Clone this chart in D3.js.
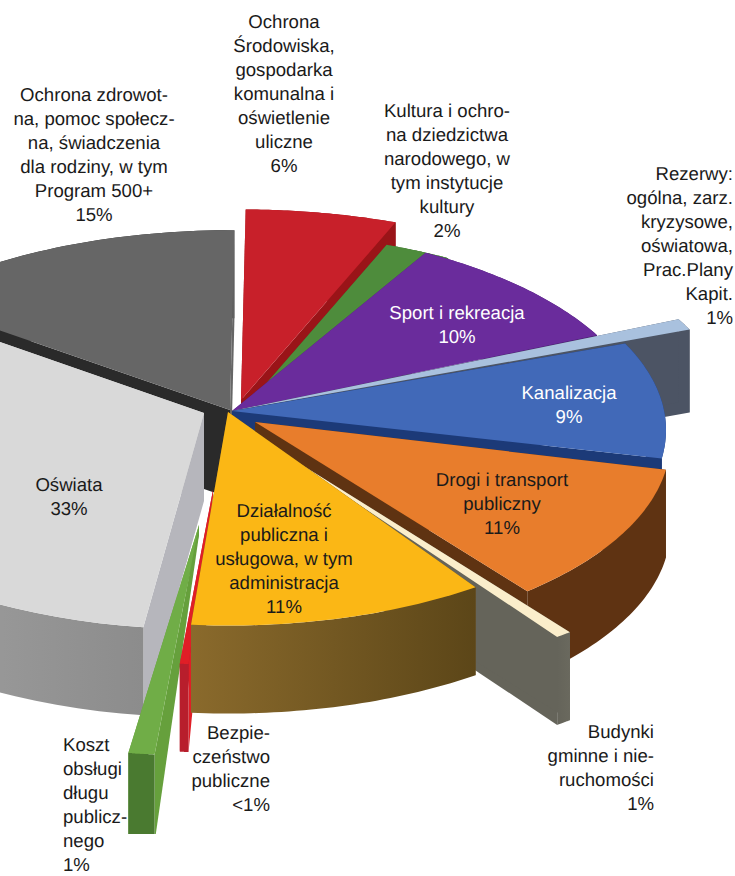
<!DOCTYPE html>
<html><head><meta charset="utf-8">
<script src="https://d3js.org/d3.v7.min.js"></script>
<style>html,body{margin:0;padding:0;background:#fff}svg{display:block}text{font-family:"Liberation Sans",Arial,sans-serif;font-size:18.6px;text-rendering:geometricPrecision}</style>
</head><body><svg id="c" width="735" height="876"></svg>
<script>
// categories and read-off shares
const categories=["Ochrona Środowiska","Kultura","Sport","Rezerwy","Kanalizacja","Drogi","Budynki","Działalność","Bezpieczeństwo","Koszt","Oświata","Ochrona zdrowia"];
const values=[5.44,2.5,9.16,0.78,9.17,11.22,1.42,11.56,0.28,0.61,34.08,13.78];
const labelLines=[
["Ochrona","Środowiska,","gospodarka","komunalna i","oświetlenie","uliczne","6%"],
["Kultura i ochro-","na dziedzictwa","narodowego, w","tym instytucje","kultury","2%"],
["Sport i rekreacja","10%"],
["Rezerwy:","ogólna, zarz.","kryzysowe,","oświatowa,","Prac.Plany","Kapit.","1%"],
["Kanalizacja","9%"],
["Drogi i transport","publiczny","11%"],
["Budynki","gminne i nie-","ruchomości","1%"],
["Działalność","publiczna i","usługowa, w tym","administracja","11%"],
["Bezpie-","czeństwo","publiczne","<1%"],
["Koszt","obsługi","długu","publicz-","nego","1%"],
["Oświata","33%"],
["Ochrona zdrowot-","na, pomoc społecz-","na, świadczenia","dla rodziny, w tym","Program 500+","15%"]];
// layout
const labelX=[284,447,457,733,569,502,654,284,270,63,69,94];
const labelY=[28,117,319,180,399,486,738,517,739,751,491,101];
const labelAnchor=["middle","middle","middle","end","middle","middle","end","middle","end","start","middle","middle"];
const labelFill=["#1a1a1a","#1a1a1a","#fff","#1a1a1a","#fff","#1a1a1a","#1a1a1a","#1a1a1a","#1a1a1a","#1a1a1a","#1a1a1a","#1a1a1a"];
const apexX=[241,238,232,232,232,255,262,228,213,199,204,230];
const apexY=[400,416,411,411,411,422,440,412,490,525,413,410];
const rimX=[241,238,215,232,231,245,260,228,233,228,204,230];
const rimY=[420,435,430,430,430,442,455,430,430,432,432,430];
const radii=[448,431,432,505,435,425,488,416,500,690,420,425];
const padStart=[0,0,0,0,0,0,2.2,0,0,0,0,0];
const padEnd=[0,0,0,0,0,0,1,0,0,0,0,0];
const rimDepth=[88,88,88,83,88,88,88,88,88,88,88,88];
const apexDepth=[88,88,88,83,88,88,88,88,5,10,88,88];
const topColor=["#c8202a","#4e8c3c","#6a2c9c","#a9c1de","#4169b8","#e87d2c","#fbeecb","#fbb715","#e01e26","#70ad47","#d9d9d9","#666666"];
const startWall=["#9a1418","#3e6e30","#4a1f70","#4c5464","#1c3a78","#5f3312","#65645a","#6a5020","#e01e26","#66a03c","#b6b6bc","#2a2a2a"];
const endWall=["#9a1418","#3e6e30","#3a1a66","#4c5464","#1c3a78","#5f3312","#65645a","#6a5020","#b81e2c","#66a03c","#d9d9d9","#666666"];
const rimFrom=["#9a1418","#3e6e30","#4a1f70","#4c5464","#1c3a78","#5f3312","#65645a","#8a6a2c","#b81e2c","#4a7a30","#a8a8a8","#2a2a2a"];
const rimTo=["#9a1418","#3e6e30","#4a1f70","#4c5464","#1c3a78","#5f3312","#6a695e","#5c4618","#b81e2c","#4a7a30","#8c8c8c","#666666"];
const rimBreak=[0,0,0,0,0,0,0,0,0,0,0,0.97];
const drawOrder=[0,11,1,2,3,4,5,6,10,9,8,7];
const tilt=0.47, deg=Math.PI/180, startAngle=0.6*deg;

const svg=d3.select("#c");
const defs=svg.append("defs");
defs.append("clipPath").attr("id","clip").append("rect").attr("width",735).attr("height",834);
const arcs=d3.pie().sort(null).startAngle(startAngle).endAngle(startAngle+2*Math.PI)(values);
const line=d3.line();
const g=svg.append("g").attr("clip-path","url(#clip)");
drawOrder.forEach(i=>{
  const a=arcs[i];
  const t0=a.startAngle+padStart[i]*deg, t1=a.endAngle-padEnd[i]*deg;
  const rim=t=>[rimX[i]+radii[i]*Math.sin(t), rimY[i]-tilt*radii[i]*Math.cos(t)];
  const ang=d3.scaleLinear().domain([0,40]).range([t0,t1]);
  const pts=d3.range(41).map(j=>rim(ang(j)));
  const A=[apexX[i],apexY[i]];
  const down=p=>[p[0],p[1]+rimDepth[i]];
  const Ad=[A[0],A[1]+apexDepth[i]];
  const grad="rim"+i;
  const lg=defs.append("linearGradient").attr("id",grad);
  lg.append("stop").attr("offset",rimBreak[i]).attr("stop-color",rimFrom[i]);
  lg.append("stop").attr("offset",1).attr("stop-color",rimTo[i]);
  const s=g.append("g").attr("class","slice").attr("data-name",categories[i]);
  const first=pts[0], last=pts[40];
  s.append("path").attr("d",line([A,last,down(last),Ad])+"Z").attr("fill",endWall[i]);
  s.append("path").attr("d",line([A,first,down(first),Ad])+"Z").attr("fill",startWall[i]);
  s.append("path").attr("d",line(pts.concat(pts.slice().reverse().map(down)))+"Z").attr("fill",`url(#${grad})`);
  s.append("path").attr("d",line([A].concat(pts))+"Z").attr("fill",topColor[i]);
});
const tg=svg.append("g");
labelLines.forEach((lines,i)=>{
  const t=tg.append("text").attr("text-anchor",labelAnchor[i]).attr("fill",labelFill[i]);
  lines.forEach((l,j)=>t.append("tspan").attr("x",labelX[i]).attr("y",labelY[i]+j*24).text(l));
});
</script></body></html>
